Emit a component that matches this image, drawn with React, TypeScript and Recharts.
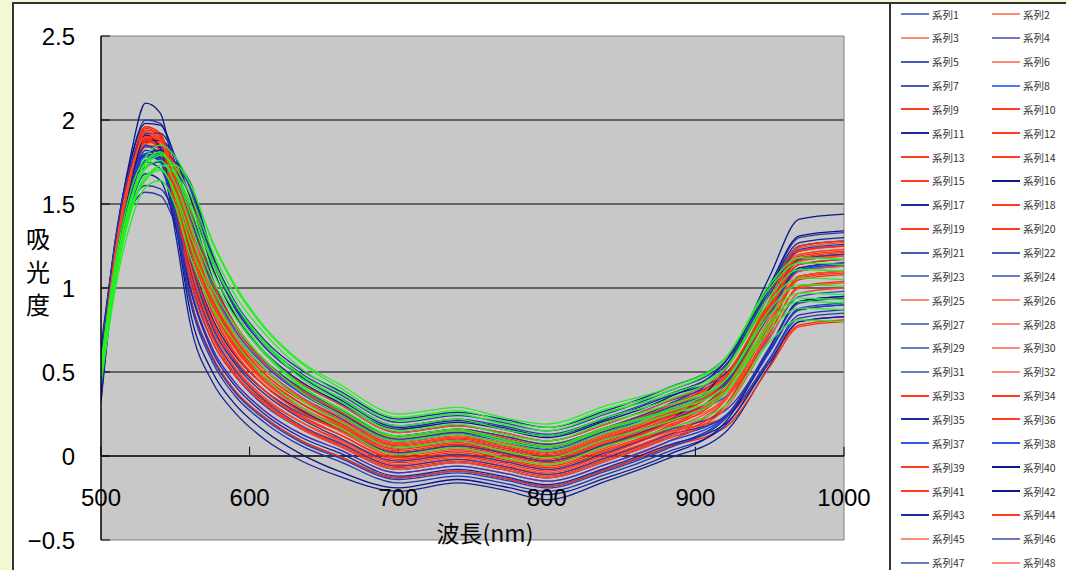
import { LineChart, Line, XAxis, YAxis, CartesianGrid, ReferenceLine } from 'recharts';

// 波長 (nm) sample points
const wavelengths = [500, 510, 520, 530, 540, 550, 560, 575, 590, 610, 635, 660, 700, 740, 770, 800, 840, 880, 920, 950, 970, 1000];

const xTicks = [500, 600, 700, 800, 900, 1000];
const yTicks = [-0.5, 0, 0.5, 1, 1.5, 2, 2.5];
const gridValues = [0.5, 1, 1.5, 2];

// 吸光度, 系列1..48
const s1 = [0.53, 1.24, 1.68, 1.89, 1.88, 1.68, 1.41, 0.99, 0.73, 0.52, 0.35, 0.23, 0.07, 0.11, 0.07, 0.02, 0.12, 0.25, 0.43, 0.85, 1.12, 1.15];
const s2 = [0.43, 1.20, 1.64, 1.89, 1.84, 1.54, 1.16, 0.77, 0.55, 0.37, 0.22, 0.11, -0.03, 0.01, -0.03, -0.08, 0.02, 0.15, 0.35, 0.79, 1.07, 1.10];
const s3 = [0.53, 1.23, 1.68, 1.92, 1.89, 1.62, 1.28, 0.88, 0.64, 0.44, 0.28, 0.17, 0.02, 0.06, 0.02, -0.03, 0.07, 0.20, 0.42, 0.88, 1.17, 1.20];
const s4 = [0.58, 1.23, 1.62, 1.76, 1.78, 1.70, 1.55, 1.12, 0.84, 0.61, 0.43, 0.31, 0.14, 0.18, 0.14, 0.09, 0.19, 0.32, 0.48, 0.88, 1.14, 1.17];
const s5 = [0.41, 1.15, 1.57, 1.79, 1.75, 1.45, 1.06, 0.68, 0.48, 0.30, 0.16, 0.06, -0.08, -0.04, -0.08, -0.13, -0.03, 0.10, 0.24, 0.62, 0.87, 0.90];
const s6 = [0.52, 1.26, 1.69, 1.89, 1.88, 1.69, 1.44, 1.02, 0.76, 0.55, 0.38, 0.26, 0.10, 0.14, 0.10, 0.05, 0.15, 0.28, 0.48, 0.92, 1.20, 1.23];
const s7 = [0.36, 1.16, 1.62, 1.90, 1.83, 1.43, 0.95, 0.59, 0.39, 0.23, 0.09, 0.00, -0.13, -0.09, -0.13, -0.18, -0.08, 0.05, 0.23, 0.65, 0.92, 0.95];
const s8 = [0.53, 1.20, 1.61, 1.78, 1.76, 1.58, 1.31, 0.91, 0.67, 0.47, 0.31, 0.20, 0.05, 0.09, 0.05, 0.00, 0.10, 0.23, 0.35, 0.71, 0.95, 0.98];
const s9 = [0.44, 1.20, 1.65, 1.92, 1.85, 1.49, 1.05, 0.68, 0.48, 0.31, 0.17, 0.08, -0.06, -0.02, -0.06, -0.11, -0.01, 0.12, 0.33, 0.78, 1.06, 1.09];
const s10 = [0.49, 1.23, 1.67, 1.89, 1.87, 1.63, 1.33, 0.92, 0.68, 0.47, 0.31, 0.19, 0.04, 0.08, 0.04, -0.01, 0.09, 0.22, 0.45, 0.92, 1.22, 1.25];
const s11 = [0.32, 1.12, 1.57, 1.85, 1.77, 1.33, 0.79, 0.44, 0.26, 0.10, -0.03, -0.12, -0.21, -0.16, -0.20, -0.26, -0.15, -0.02, 0.14, 0.54, 0.80, 0.83];
const s12 = [0.40, 1.17, 1.62, 1.88, 1.82, 1.46, 1.01, 0.64, 0.44, 0.27, 0.13, 0.04, -0.10, -0.06, -0.10, -0.15, -0.05, 0.08, 0.30, 0.76, 1.05, 1.08];
const s13 = [0.53, 1.26, 1.72, 1.96, 1.92, 1.65, 1.33, 0.93, 0.69, 0.49, 0.33, 0.22, 0.07, 0.11, 0.07, 0.02, 0.12, 0.25, 0.45, 0.89, 1.17, 1.20];
const s14 = [0.47, 1.23, 1.69, 1.95, 1.90, 1.57, 1.18, 0.79, 0.57, 0.39, 0.24, 0.13, -0.01, 0.03, -0.01, -0.06, 0.04, 0.17, 0.41, 0.89, 1.19, 1.22];
const s15 = [0.56, 1.26, 1.68, 1.87, 1.87, 1.70, 1.47, 1.05, 0.79, 0.57, 0.40, 0.28, 0.12, 0.16, 0.12, 0.07, 0.17, 0.30, 0.48, 0.90, 1.17, 1.20];
const s16 = [0.53, 1.28, 1.79, 2.10, 2.04, 1.64, 1.21, 0.82, 0.60, 0.42, 0.27, 0.16, 0.02, 0.06, 0.02, -0.03, 0.07, 0.20, 0.52, 1.07, 1.41, 1.44];
const s17 = [0.61, 1.28, 1.70, 1.87, 1.88, 1.78, 1.61, 1.17, 0.89, 0.65, 0.47, 0.34, 0.17, 0.21, 0.17, 0.12, 0.22, 0.35, 0.49, 0.87, 1.12, 1.15];
const s18 = [0.43, 1.19, 1.64, 1.88, 1.83, 1.50, 1.10, 0.72, 0.52, 0.34, 0.20, 0.10, -0.04, 0.00, -0.04, -0.09, 0.01, 0.14, 0.23, 0.56, 0.78, 0.81];
const s19 = [0.50, 1.23, 1.67, 1.88, 1.85, 1.62, 1.31, 0.91, 0.67, 0.47, 0.31, 0.20, 0.05, 0.09, 0.05, 0.00, 0.10, 0.23, 0.44, 0.89, 1.18, 1.21];
const s20 = [0.38, 1.16, 1.61, 1.88, 1.81, 1.43, 0.95, 0.59, 0.39, 0.23, 0.09, 0.00, -0.13, -0.09, -0.13, -0.18, -0.08, 0.05, 0.17, 0.53, 0.77, 0.80];
const s21 = [0.54, 1.23, 1.63, 1.79, 1.80, 1.68, 1.48, 1.06, 0.78, 0.56, 0.38, 0.26, 0.10, 0.14, 0.10, 0.05, 0.15, 0.28, 0.44, 0.84, 1.10, 1.13];
const s22 = [0.35, 1.13, 1.56, 1.82, 1.76, 1.39, 0.92, 0.56, 0.36, 0.20, 0.06, -0.03, -0.16, -0.12, -0.16, -0.21, -0.11, 0.02, 0.18, 0.58, 0.84, 0.87];
const s23 = [0.63, 1.25, 1.62, 1.72, 1.75, 1.71, 1.61, 1.18, 0.90, 0.67, 0.49, 0.37, 0.20, 0.24, 0.20, 0.15, 0.25, 0.38, 0.56, 0.98, 1.25, 1.28];
const s24 = [0.46, 1.12, 1.48, 1.61, 1.59, 1.43, 1.16, 0.77, 0.55, 0.37, 0.22, 0.11, -0.03, 0.01, -0.03, -0.08, 0.02, 0.15, 0.27, 0.63, 0.87, 0.90];
const s25 = [0.49, 1.21, 1.64, 1.85, 1.84, 1.62, 1.33, 0.92, 0.66, 0.46, 0.29, 0.17, 0.02, 0.06, 0.02, -0.03, 0.07, 0.20, 0.39, 0.82, 1.10, 1.13];
const s26 = [0.41, 1.17, 1.60, 1.84, 1.80, 1.49, 1.09, 0.71, 0.49, 0.31, 0.16, 0.06, -0.08, -0.04, -0.08, -0.13, -0.03, 0.10, 0.28, 0.70, 0.97, 1.00];
const s27 = [0.56, 1.30, 1.76, 2.00, 1.98, 1.74, 1.46, 1.04, 0.78, 0.57, 0.40, 0.28, 0.12, 0.16, 0.12, 0.07, 0.17, 0.30, 0.53, 1.00, 1.30, 1.33];
const s28 = [0.51, 1.25, 1.69, 1.91, 1.89, 1.68, 1.40, 0.99, 0.73, 0.52, 0.35, 0.24, 0.08, 0.12, 0.08, 0.03, 0.13, 0.26, 0.47, 0.92, 1.20, 1.23];
const s29 = [0.43, 1.15, 1.55, 1.75, 1.71, 1.46, 1.11, 0.73, 0.51, 0.33, 0.18, 0.08, -0.06, -0.02, -0.06, -0.11, -0.01, 0.12, 0.23, 0.58, 0.82, 0.85];
const s30 = [0.56, 1.26, 1.68, 1.86, 1.87, 1.74, 1.55, 1.12, 0.84, 0.61, 0.43, 0.31, 0.14, 0.18, 0.14, 0.09, 0.19, 0.32, 0.52, 0.96, 1.24, 1.27];
const s31 = [0.45, 1.13, 1.47, 1.57, 1.55, 1.38, 1.13, 0.76, 0.56, 0.39, 0.25, 0.16, 0.02, 0.06, 0.02, -0.03, 0.07, 0.20, 0.42, 0.88, 1.17, 1.20];
const s32 = [0.47, 1.22, 1.67, 1.91, 1.88, 1.61, 1.26, 0.86, 0.62, 0.42, 0.26, 0.15, 0.00, 0.04, 0.00, -0.05, 0.05, 0.18, 0.34, 0.74, 1.00, 1.03];
const s33 = [0.51, 1.23, 1.66, 1.87, 1.85, 1.64, 1.35, 0.94, 0.70, 0.49, 0.33, 0.21, 0.06, 0.10, 0.06, 0.01, 0.11, 0.24, 0.46, 0.93, 1.22, 1.25];
const s34 = [0.43, 1.18, 1.63, 1.88, 1.83, 1.50, 1.09, 0.71, 0.49, 0.32, 0.17, 0.07, -0.07, -0.03, -0.07, -0.12, -0.02, 0.11, 0.30, 0.73, 1.01, 1.04];
const s35 = [0.65, 1.28, 1.67, 1.80, 1.82, 1.75, 1.63, 1.20, 0.92, 0.69, 0.51, 0.39, 0.22, 0.26, 0.22, 0.17, 0.27, 0.40, 0.58, 1.00, 1.27, 1.30];
const s36 = [0.49, 1.24, 1.70, 1.94, 1.91, 1.63, 1.29, 0.89, 0.65, 0.45, 0.29, 0.18, 0.03, 0.07, 0.03, -0.02, 0.08, 0.21, 0.41, 0.86, 1.14, 1.17];
const s37 = [0.40, 1.15, 1.57, 1.80, 1.75, 1.43, 1.01, 0.64, 0.44, 0.27, 0.13, 0.04, -0.10, -0.06, -0.10, -0.15, -0.05, 0.08, 0.23, 0.62, 0.88, 0.91];
const s38 = [0.54, 1.24, 1.66, 1.84, 1.84, 1.67, 1.43, 1.01, 0.75, 0.54, 0.37, 0.25, 0.09, 0.13, 0.09, 0.04, 0.14, 0.27, 0.44, 0.85, 1.11, 1.14];
const s39 = [0.46, 1.23, 1.69, 1.96, 1.91, 1.59, 1.20, 0.80, 0.58, 0.39, 0.23, 0.13, -0.02, 0.02, -0.02, -0.07, 0.03, 0.16, 0.39, 0.86, 1.16, 1.19];
const s40 = [0.34, 1.15, 1.61, 1.91, 1.83, 1.39, 0.86, 0.50, 0.31, 0.15, 0.01, -0.09, -0.19, -0.14, -0.18, -0.23, -0.13, 0.00, 0.20, 0.64, 0.92, 0.95];
const s41 = [0.55, 1.26, 1.70, 1.90, 1.89, 1.71, 1.46, 1.04, 0.78, 0.56, 0.39, 0.27, 0.11, 0.15, 0.11, 0.06, 0.16, 0.29, 0.51, 0.96, 1.25, 1.28];
const s42 = [0.59, 1.31, 1.76, 1.98, 1.97, 1.78, 1.54, 1.12, 0.84, 0.62, 0.44, 0.32, 0.16, 0.20, 0.16, 0.11, 0.21, 0.34, 0.56, 1.02, 1.31, 1.34];
const s43 = [0.38, 1.10, 1.49, 1.68, 1.64, 1.37, 0.99, 0.62, 0.42, 0.25, 0.11, 0.02, -0.12, -0.08, -0.12, -0.17, -0.07, 0.06, 0.19, 0.56, 0.80, 0.83];
const s44 = [0.48, 1.23, 1.68, 1.93, 1.89, 1.60, 1.24, 0.85, 0.61, 0.42, 0.26, 0.16, 0.01, 0.05, 0.01, -0.04, 0.06, 0.19, 0.37, 0.80, 1.07, 1.10];
const s45 = [0.52, 1.24, 1.68, 1.90, 1.88, 1.66, 1.38, 0.97, 0.71, 0.51, 0.34, 0.22, 0.07, 0.11, 0.07, 0.02, 0.12, 0.25, 0.45, 0.88, 1.16, 1.19];
const s46 = [0.61, 1.30, 1.73, 1.92, 1.92, 1.78, 1.59, 1.16, 0.88, 0.65, 0.47, 0.35, 0.18, 0.22, 0.18, 0.13, 0.23, 0.36, 0.54, 0.96, 1.23, 1.26];
const s47 = [0.36, 1.14, 1.59, 1.85, 1.79, 1.41, 0.94, 0.58, 0.38, 0.22, 0.08, -0.01, -0.14, -0.10, -0.14, -0.19, -0.09, 0.04, 0.22, 0.64, 0.91, 0.94];
const s48 = [0.44, 1.20, 1.66, 1.93, 1.88, 1.55, 1.14, 0.75, 0.53, 0.35, 0.20, 0.09, -0.05, -0.01, -0.05, -0.10, 0.00, 0.13, 0.34, 0.79, 1.07, 1.10];

// green group (series past the cut-off legend)
const s49 = [0.55, 1.17, 1.58, 1.78, 1.85, 1.78, 1.62, 1.28, 1.02, 0.77, 0.56, 0.43, 0.25, 0.29, 0.23, 0.19, 0.30, 0.40, 0.58, 1.00, 1.15, 1.14];
const s50 = [0.53, 1.13, 1.53, 1.72, 1.79, 1.72, 1.56, 1.22, 0.96, 0.73, 0.52, 0.38, 0.21, 0.25, 0.19, 0.15, 0.26, 0.36, 0.52, 0.92, 1.06, 1.05];
const s51 = [0.52, 1.12, 1.53, 1.74, 1.80, 1.69, 1.48, 1.15, 0.91, 0.68, 0.48, 0.35, 0.18, 0.22, 0.16, 0.12, 0.23, 0.33, 0.52, 0.95, 1.11, 1.10];
const s52 = [0.50, 1.09, 1.47, 1.65, 1.73, 1.68, 1.51, 1.17, 0.91, 0.67, 0.46, 0.33, 0.15, 0.19, 0.13, 0.09, 0.20, 0.30, 0.45, 0.84, 0.97, 0.96];
const s53 = [0.49, 1.09, 1.50, 1.71, 1.76, 1.62, 1.38, 1.05, 0.83, 0.61, 0.41, 0.29, 0.12, 0.16, 0.10, 0.06, 0.17, 0.27, 0.45, 0.87, 1.02, 1.01];
const s54 = [0.47, 1.06, 1.45, 1.65, 1.70, 1.57, 1.32, 1.00, 0.78, 0.57, 0.38, 0.25, 0.09, 0.13, 0.07, 0.03, 0.14, 0.24, 0.38, 0.75, 0.88, 0.87];
const s55 = [0.45, 1.05, 1.45, 1.67, 1.71, 1.55, 1.26, 0.95, 0.73, 0.52, 0.33, 0.21, 0.05, 0.09, 0.03, -0.01, 0.10, 0.20, 0.37, 0.78, 0.92, 0.91];
const s56 = [0.43, 1.01, 1.39, 1.60, 1.64, 1.49, 1.19, 0.88, 0.68, 0.47, 0.29, 0.17, 0.01, 0.05, -0.01, -0.05, 0.06, 0.16, 0.30, 0.68, 0.81, 0.80];
const s57 = [0.54, 1.12, 1.49, 1.64, 1.73, 1.73, 1.62, 1.27, 1.01, 0.76, 0.55, 0.41, 0.23, 0.27, 0.21, 0.17, 0.28, 0.38, 0.58, 1.02, 1.18, 1.17];
const s58 = [0.48, 1.10, 1.52, 1.75, 1.81, 1.68, 1.44, 1.10, 0.86, 0.62, 0.42, 0.28, 0.11, 0.15, 0.09, 0.05, 0.16, 0.26, 0.41, 0.80, 0.94, 0.93];

const seriesValues = [
    s1, s2, s3, s4, s5, s6, s7, s8, s9, s10, s11, s12, s13, s14, s15, s16,
    s17, s18, s19, s20, s21, s22, s23, s24, s25, s26, s27, s28, s29, s30, s31, s32,
    s33, s34, s35, s36, s37, s38, s39, s40, s41, s42, s43, s44, s45, s46, s47, s48,
    s49, s50, s51, s52, s53, s54, s55, s56, s57, s58,
];

// colour family of each series (as seen in the legend)
const seriesKinds = [
    'muted', 'salmon', 'salmon', 'muted', 'blue', 'salmon', 'blue', 'bright',
    'red', 'red', 'navy', 'red', 'red', 'red', 'red', 'deep',
    'navy', 'red', 'red', 'red', 'blue', 'blue', 'muted', 'muted',
    'salmon', 'salmon', 'muted', 'salmon', 'muted', 'salmon', 'muted', 'salmon',
    'red', 'red', 'navy', 'red', 'blue2', 'blue2', 'red', 'deep',
    'red', 'deep', 'navy', 'red', 'salmon', 'muted', 'muted', 'salmon',
    'green', 'green', 'green', 'green', 'green', 'green', 'green', 'green', 'green', 'green',
];

const lineColor: Record<string, string> = {
    muted: '#2a3aa8',
    salmon: '#ff4628',
    blue: '#2233b4',
    bright: '#2a48f0',
    red: '#ff2a0c',
    navy: '#14229a',
    deep: '#081686',
    blue2: '#1c3ce0',
    green: '#22f022',
};

const legendColor: Record<string, string> = {
    muted: '#6a7ac4',
    salmon: '#ff8a76',
    blue: '#4a5abc',
    bright: '#5577ff',
    red: '#ff3c1e',
    navy: '#1c2aa0',
    deep: '#0a188a',
    blue2: '#3355e8',
    green: '#22f022',
};

const seriesNames = seriesValues.map((_, i) => `系列${i + 1}`);
const legendCount = 48;

const rows = wavelengths.map((wl, i) => {
    const row: Record<string, number> = { wl };
    seriesValues.forEach((vals, k) => {
        row[`s${k + 1}`] = vals[i];
    });
    return row;
});

const numFont = '"Liberation Sans", Arial, sans-serif';
const jpFont = '"Noto Sans CJK JP", sans-serif';

const fmtY = (v: number) => (v < 0 ? `−${Math.abs(v)}` : String(v));

const XTick = (props: any) => {
    const { x, y, payload } = props;
    return (
        <text
            x={x}
            y={y - 43}
            textAnchor="middle"
            dominantBaseline="central"
            fontSize={24}
            fontFamily={numFont}
            fill="#000"
        >
            {payload.value}
        </text>
    );
};

const SideLegend = () => (
    <div
        style={{
            position: 'absolute',
            left: 892,
            top: 5,
            width: 174,
            height: 565,
            overflow: 'hidden',
        }}
    >
        {seriesNames.slice(0, legendCount).map((name, i) => {
            const row = Math.floor(i / 2);
            const col = i % 2;
            return (
                <div
                    key={name}
                    style={{
                        position: 'absolute',
                        left: (col ? 992 : 901) - 892,
                        top: 14 + row * 23.85 - 5 - 8,
                        height: 16,
                        display: 'flex',
                        alignItems: 'center',
                        whiteSpace: 'nowrap',
                    }}
                >
                    <span
                        style={{
                            display: 'inline-block',
                            width: 28,
                            height: 0,
                            borderTop: `2px solid ${legendColor[seriesKinds[i]]}`,
                        }}
                    />
                    <span
                        style={{
                            marginLeft: 3,
                            fontSize: 10.5,
                            fontFamily: jpFont,
                            color: '#333',
                        }}
                    >
                        {name}
                    </span>
                </div>
            );
        })}
    </div>
);

const App = () => {
    return (
        <div
            style={{
                position: 'absolute',
                left: 0,
                top: 0,
                width: 1066,
                height: 570,
                overflow: 'hidden',
                background: '#f1f9d3',
            }}
        >
            <div
                style={{
                    position: 'absolute',
                    left: 12,
                    top: 2,
                    width: 1100,
                    height: 600,
                    background: '#fff',
                    border: '2px solid #333',
                }}
            />
            <div
                style={{
                    position: 'absolute',
                    left: 889,
                    top: 2,
                    width: 300,
                    height: 600,
                    borderLeft: '2px solid #333',
                }}
            />

            <div style={{ position: 'absolute', left: 0, top: 0 }}>
                <LineChart
                    width={1066}
                    height={570}
                    data={rows}
                    margin={{ top: 36, right: 222, bottom: 0, left: 41 }}
                >
                    <CartesianGrid
                        fill="#c8c8c8"
                        stroke="#000"
                        vertical={false}
                        horizontalValues={gridValues}
                    />
                    <XAxis
                        type="number"
                        dataKey="wl"
                        domain={[500, 1000]}
                        ticks={xTicks}
                        interval={0}
                        height={30}
                        axisLine={false}
                        tickLine={false}
                        tickSize={0}
                        tickMargin={0}
                        tick={<XTick />}
                        allowDataOverflow
                    />
                    <YAxis
                        type="number"
                        domain={[-0.5, 2.5]}
                        ticks={yTicks}
                        interval={0}
                        width={60}
                        axisLine={{ stroke: '#000', strokeWidth: 1.5 }}
                        tickLine={false}
                        tickSize={0}
                        tickMargin={26}
                        tickFormatter={fmtY}
                        tick={{ fontSize: 24, fill: '#000', fontFamily: numFont }}
                        allowDataOverflow
                    />
                    <ReferenceLine y={2.5} stroke="#808080" />
                    <ReferenceLine y={-0.5} stroke="#808080" />
                    <ReferenceLine x={1000} stroke="#808080" />
                    <ReferenceLine y={0} stroke="#000" strokeWidth={1.5} />
                    {xTicks.map((t) => (
                        <ReferenceLine
                            key={`xt${t}`}
                            segment={[
                                { x: t, y: 0 },
                                { x: t, y: 0.055 },
                            ]}
                            stroke="#000"
                        />
                    ))}
                    {yTicks.map((t) => (
                        <ReferenceLine
                            key={`yt${t}`}
                            segment={[
                                { x: 500, y: t },
                                { x: 506, y: t },
                            ]}
                            stroke="#000"
                        />
                    ))}
                    {seriesNames.map((name, k) => (
                        <Line
                            key={name}
                            name={name}
                            type="monotone"
                            dataKey={`s${k + 1}`}
                            stroke={lineColor[seriesKinds[k]]}
                            strokeWidth={1.3}
                            dot={false}
                            isAnimationActive={false}
                        />
                    ))}
                </LineChart>
            </div>

            <div
                style={{
                    position: 'absolute',
                    left: 26,
                    top: 221,
                    width: 24,
                    fontSize: 24,
                    lineHeight: '33px',
                    fontFamily: jpFont,
                    color: '#000',
                    textAlign: 'center',
                }}
            >
                <div>吸</div>
                <div>光</div>
                <div>度</div>
            </div>
            <div
                style={{
                    position: 'absolute',
                    left: 385,
                    top: 516,
                    width: 200,
                    textAlign: 'center',
                    fontSize: 23,
                    lineHeight: '32px',
                    fontFamily: jpFont,
                    color: '#000',
                }}
            >
                波長(nm)
            </div>

            <SideLegend />
        </div>
    );
};

export default App;
